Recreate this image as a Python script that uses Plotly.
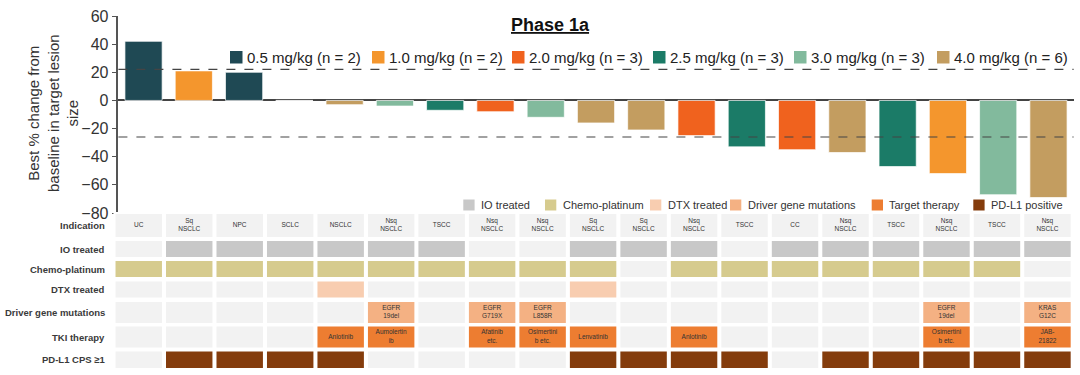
import plotly.graph_objects as go

# ---------------- data ----------------
indication = ["UC", "Sq<br>NSCLC", "NPC", "SCLC", "NSCLC", "Nsq<br>NSCLC", "TSCC",
              "Nsq<br>NSCLC", "Nsq<br>NSCLC", "Sq<br>NSCLC", "Sq<br>NSCLC", "Nsq<br>NSCLC",
              "TSCC", "CC", "Nsq<br>NSCLC", "TSCC", "Nsq<br>NSCLC", "TSCC", "Nsq<br>NSCLC"]
dose = ["0.5", "1.0", "0.5", "4.0", "4.0", "3.0", "2.5", "2.0", "3.0", "4.0",
        "4.0", "2.0", "2.5", "2.0", "4.0", "2.5", "1.0", "3.0", "4.0"]
best_change = [42, 21, 20, 0, -3, -4, -7, -8, -12, -16, -21, -25, -33, -35, -37, -47, -52, -67, -69]

io_treated = [0, 1, 1, 1, 1, 1, 1, 0, 0, 1, 1, 1, 0, 1, 1, 1, 1, 1, 1]
chemo_platinum = [1, 1, 1, 1, 1, 1, 1, 1, 1, 1, 0, 1, 1, 1, 1, 1, 1, 1, 0]
dtx_treated = [0, 0, 0, 0, 1, 0, 0, 0, 0, 1, 0, 0, 0, 0, 0, 0, 0, 0, 0]
driver_mut = ["", "", "", "", "", "EGFR<br>19del", "", "EGFR<br>G719X", "EGFR<br>L858R", "",
              "", "", "", "", "", "", "EGFR<br>19del", "", "KRAS<br>G12C"]
tki_therapy = ["", "", "", "", "Anlotinib", "Aumolertin<br>ib", "", "Afatinib<br>etc.",
               "Osimertini<br>b etc.", "Lenvatinib", "", "Anlotinib", "", "", "", "",
               "Osimertini<br>b etc.", "", "JAB-<br>21822"]
pdl1_pos = [0, 1, 1, 1, 1, 0, 0, 0, 0, 1, 1, 1, 1, 0, 1, 1, 1, 1, 1]

dose_levels = ["0.5", "1.0", "2.0", "2.5", "3.0", "4.0"]
ref_lines = [22, -26]
y_ticks = [60, 40, 20, 0, -20, -40, -60, -80]

# ---------------- styles ----------------
W, H = 1080, 375
FONT = "Liberation Sans, Arial, sans-serif"
dose_colors = {"0.5": "#1f4954", "1.0": "#f4962d", "2.0": "#f0621e",
               "2.5": "#1b7b67", "3.0": "#82ba9d", "4.0": "#c39d60"}
EMPTY = "#f2f2f2"
C_IO, C_CHEMO, C_DTX, C_DRV, C_TKI, C_PD = "#c8c8c8", "#d6cb8e", "#f8cdb0", "#f4b183", "#ed7d31", "#843c0c"


def px_x(p):
    return p / W


def px_y(p):
    return 1 - p / H


n = len(best_change)
xs = list(range(n))

fig = go.Figure()

# waterfall bars
fig.add_trace(go.Bar(
    x=xs, y=best_change, xaxis="x", yaxis="y",
    marker=dict(color=[dose_colors[d] for d in dose],
                line=dict(color="rgba(255,255,255,0.7)", width=1)),
    width=0.74, showlegend=False, hoverinfo="y",
))

# ---------------- table ----------------
rows = [  # (label, top px, height px, colors, texts)
    ("Indication", 214, 23, [EMPTY] * n, indication),
    ("IO treated", 241, 16, [C_IO if v else EMPTY for v in io_treated], None),
    ("Chemo-platinum", 261, 16, [C_CHEMO if v else EMPTY for v in chemo_platinum], None),
    ("DTX treated", 281.5, 16, [C_DTX if v else EMPTY for v in dtx_treated], None),
    ("Driver gene mutations", 302, 21, [C_DRV if v else EMPTY for v in driver_mut], driver_mut),
    ("TKI therapy", 326.5, 21, [C_TKI if v else EMPTY for v in tki_therapy], tki_therapy),
    ("PD-L1 CPS ≥1", 351.5, 16.5, [C_PD if v else EMPTY for v in pdl1_pos], None),
]

annotations = []
for label, top, h, colors, texts in rows:
    fig.add_trace(go.Bar(
        x=xs, y=[h] * n, base=[top] * n, xaxis="x2", yaxis="y2",
        marker=dict(color=colors, line=dict(width=0)), width=0.92,
        showlegend=False, hoverinfo="skip",
    ))
    if texts:
        fig.add_trace(go.Scatter(
            x=xs, y=[top + h / 2] * n, xaxis="x2", yaxis="y2", mode="text",
            text=texts, textposition="middle center",
            textfont=dict(family=FONT, size=6.5, color="#333333"),
            showlegend=False, hoverinfo="skip",
        ))
    annotations.append(dict(
        text="<b>" + label + "</b>", xref="paper", yref="y2", x=px_x(107), y=top + h / 2,
        xanchor="right", yanchor="middle", showarrow=False,
        font=dict(family=FONT, size=9.5, color="#3a3a3a"),
    ))

shapes = []
# reference dashed lines
for v in ref_lines:
    shapes.append(dict(type="line", xref="x domain", yref="y", x0=0, x1=1, y0=v, y1=v,
                       line=dict(color="#444444", width=1.2, dash="dash")))

# dose legend
counts = {d: dose.count(d) for d in dose_levels}
leg1_x = [230, 372, 512, 653, 794, 937]
for d, lx in zip(dose_levels, leg1_x):
    shapes.append(dict(type="rect", xref="paper", yref="paper",
                       x0=px_x(lx), x1=px_x(lx + 12.5), y0=px_y(63.5), y1=px_y(51),
                       fillcolor=dose_colors[d], line=dict(width=0)))
    annotations.append(dict(text=f"{d} mg/kg (n = {counts[d]})", xref="paper", yref="paper",
                            x=px_x(lx + 15), y=px_y(57.5), xanchor="left", yanchor="middle",
                            showarrow=False, font=dict(family=FONT, size=15, color="#222222")))

# table legend
leg2 = [("IO treated", C_IO, 463.3), ("Chemo-platinum", C_CHEMO, 545), ("DTX treated", C_DTX, 650),
        ("Driver gene mutations", C_DRV, 730), ("Target therapy", C_TKI, 871.7),
        ("PD-L1 positive", C_PD, 973.3)]
for name, col, lx in leg2:
    shapes.append(dict(type="rect", xref="paper", yref="paper",
                       x0=px_x(lx), x1=px_x(lx + 11.3), y0=px_y(210.5), y1=px_y(199.5),
                       fillcolor=col, line=dict(width=0)))
    annotations.append(dict(text=name, xref="paper", yref="paper",
                            x=px_x(lx + 15.5), y=px_y(205), xanchor="left", yanchor="middle",
                            showarrow=False, font=dict(family=FONT, size=11, color="#333333")))

# title and y title
annotations.append(dict(text="<u><b>Phase 1a</b></u>", xref="paper", yref="paper",
                        x=px_x(550), y=px_y(25), xanchor="center", yanchor="middle",
                        showarrow=False, font=dict(family=FONT, size=18, color="#111111")))
annotations.append(dict(text="Best % change from<br>baseline in target lesion<br>size",
                        xref="paper", yref="paper", x=px_x(53), y=px_y(113),
                        xanchor="center", yanchor="middle", textangle=-90, showarrow=False,
                        font=dict(family=FONT, size=15, color="#333333")))

fig.update_layout(
    template="none",
    width=W, height=H, margin=dict(l=0, r=0, t=0, b=0, autoexpand=False),
    paper_bgcolor="white", plot_bgcolor="white", barmode="overlay",
    showlegend=False, font=dict(family=FONT),
    xaxis=dict(domain=[px_x(118.4), px_x(1073.6)], range=[-0.5, n - 0.5],
               showticklabels=False, showline=False, showgrid=False, zeroline=False,
               anchor="y", automargin=False),
    yaxis=dict(domain=[px_y(213), px_y(16)], range=[-80, 60], tickvals=y_ticks,
               showline=True, linecolor="#555555", linewidth=1.5,
               ticks="outside", ticklen=5, tickcolor="#555555", tickwidth=1.2,
               tickfont=dict(family=FONT, size=16, color="#333333"),
               showgrid=False, zeroline=True, zerolinecolor="#444444", zerolinewidth=1.5,
               anchor="x", automargin=False),
    xaxis2=dict(domain=[px_x(113.5), px_x(1072.7)], range=[-0.5, n - 0.5],
                showticklabels=False, showline=False, showgrid=False, zeroline=False,
                anchor="y2", automargin=False),
    yaxis2=dict(domain=[px_y(372), px_y(212)], range=[372, 212], autorange=False,
                showticklabels=False, showline=False, showgrid=False, zeroline=False,
                anchor="x2", automargin=False),
    shapes=shapes, annotations=annotations,
)

fig.write_html("out.html", config={"displayModeBar": False},
               post_script="document.body.style.margin='0px';document.body.style.overflow='hidden';")
